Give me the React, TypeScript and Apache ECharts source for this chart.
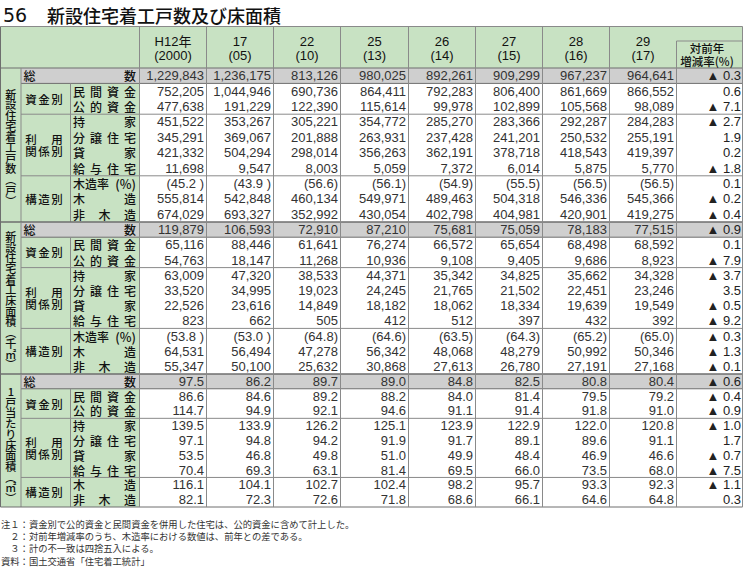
import React, { useEffect, useRef } from "react";
import * as echarts from "echarts";

// ---------- data ----------
const yearLabels = ["H12年", "17", "22", "25", "26", "27", "28", "29"];
const yearSubLabels = ["(2000)", "(05)", "(10)", "(13)", "(14)", "(15)", "(16)", "(17)"];
const changeHeader = ["対前年", "増減率(%)"];

const sectionTitles = ["新設住宅着工戸数︵戸︶", "新設住宅着工床面積︵千㎡︶", "1戸当たり床面積︵㎡︶"];
const totalLabel = ["総", "数"];
const fundGroup = "資金別";
const fundLabels = ["民間資金", "公的資金"];
const useGroup = ["利用", "関係別"];
const useLabels = ["持家", "分譲住宅", "貸家", "給与住宅"];
const structGroup = "構造別";
const woodRateLabel = ["木造率", "(%)"];
const structLabels = ["木造", "非木造"];

// 新設住宅着工戸数（戸）: 総数, 民間資金, 公的資金, 持家, 分譲住宅, 貸家, 給与住宅, 木造率, 木造, 非木造
const startsUnits: number[][] = [
  [1229843, 1236175, 813126, 980025, 892261, 909299, 967237, 964641],
  [752205, 1044946, 690736, 864411, 792283, 806400, 861669, 866552],
  [477638, 191229, 122390, 115614, 99978, 102899, 105568, 98089],
  [451522, 353267, 305221, 354772, 285270, 283366, 292287, 284283],
  [345291, 369067, 201888, 263931, 237428, 241201, 250532, 255191],
  [421332, 504294, 298014, 356263, 362191, 378718, 418543, 419397],
  [11698, 9547, 8003, 5059, 7372, 6014, 5875, 5770],
  [45.2, 43.9, 56.6, 56.1, 54.9, 55.5, 56.5, 56.5],
  [555814, 542848, 460134, 549971, 489463, 504318, 546336, 545366],
  [674029, 693327, 352992, 430054, 402798, 404981, 420901, 419275],
];
const startsUnitsChange = [-0.3, 0.6, -7.1, -2.7, 1.9, 0.2, -1.8, 0.1, -0.2, -0.4];

// 新設住宅着工床面積（千㎡）
const floorArea: number[][] = [
  [119879, 106593, 72910, 87210, 75681, 75059, 78183, 77515],
  [65116, 88446, 61641, 76274, 66572, 65654, 68498, 68592],
  [54763, 18147, 11268, 10936, 9108, 9405, 9686, 8923],
  [63009, 47320, 38533, 44371, 35342, 34825, 35662, 34328],
  [33520, 34995, 19023, 24245, 21765, 21502, 22451, 23246],
  [22526, 23616, 14849, 18182, 18062, 18334, 19639, 19549],
  [823, 662, 505, 412, 512, 397, 432, 392],
  [53.8, 53.0, 64.8, 64.6, 63.5, 64.3, 65.2, 65.0],
  [64531, 56494, 47278, 56342, 48068, 48279, 50992, 50346],
  [55347, 50100, 25632, 30868, 27613, 26780, 27191, 27168],
];
const floorAreaChange = [-0.9, 0.1, -7.9, -3.7, 3.5, -0.5, -9.2, -0.3, -1.3, -0.1];

// 1戸当たり床面積（㎡）: 総数, 民間資金, 公的資金, 持家, 分譲住宅, 貸家, 給与住宅, 木造, 非木造
const perUnitArea: number[][] = [
  [97.5, 86.2, 89.7, 89.0, 84.8, 82.5, 80.8, 80.4],
  [86.6, 84.6, 89.2, 88.2, 84.0, 81.4, 79.5, 79.2],
  [114.7, 94.9, 92.1, 94.6, 91.1, 91.4, 91.8, 91.0],
  [139.5, 133.9, 126.2, 125.1, 123.9, 122.9, 122.0, 120.8],
  [97.1, 94.8, 94.2, 91.9, 91.7, 89.1, 89.6, 91.1],
  [53.5, 46.8, 49.8, 51.0, 49.9, 48.4, 46.9, 46.6],
  [70.4, 69.3, 63.1, 81.4, 69.5, 66.0, 73.5, 68.0],
  [116.1, 104.1, 102.7, 102.4, 98.2, 95.7, 93.3, 92.3],
  [82.1, 72.3, 72.6, 71.8, 68.6, 66.1, 64.6, 64.8],
];
const perUnitAreaChange = [-0.6, -0.4, -0.9, -1.0, 1.7, -0.7, -7.5, -1.1, 0.3];

const titleNumber = "56";
const titleText = "新設住宅着工戸数及び床面積";
const notes = [
  "注１：資金別で公的資金と民間資金を併用した住宅は、公的資金に含めて計上した。",
  "　２：対前年増減率のうち、木造率における数値は、前年との差である。",
  "　３：計の不一致は四捨五入による。",
  "資料：国土交通省「住宅着工統計」",
];

// ---------- layout / style ----------
const GREEN = "#c8e2c3";
const GRAY = "#cfcfcf";
const LINE = "#8a8a8a";
const DARK = "#6e6e6e";
const NUM_FONT = "'Liberation Sans','DejaVu Sans',sans-serif";
const JP_FONT = "'Noto Sans CJK JP','Noto Sans CJK SC',sans-serif";
const LABEL_W = "500";

const colX = [139.5, 206.5, 273.5, 340.5, 408.5, 475.5, 542.5, 609.5, 676.5, 742.5];
const TOP = 26.5;
const HEAD_BOTTOM = 68;
const secTops = [68, 222, 374, 507];

const fmtInt = (v: number) => v.toLocaleString("en-US");
const fmtChange = (v: number) => (v < 0 ? "▲ " + Math.abs(v).toFixed(1) : v.toFixed(1));

function buildElements() {
  const els: any[] = [];
  const rect = (x: number, y: number, w: number, h: number, fill: string) =>
    els.push({ type: "rect", z: 0, silent: true, shape: { x, y, width: w, height: h }, style: { fill } });
  const line = (x1: number, y1: number, x2: number, y2: number, stroke = LINE, lw = 1) =>
    els.push({ type: "line", z: 1, silent: true, shape: { x1, y1, x2, y2 }, style: { stroke, lineWidth: lw } });
  const text = (
    x: number,
    y: number,
    t: string,
    o: { size?: number; family?: string; fill?: string; align?: string; weight?: string; lh?: number } = {}
  ) =>
    els.push({
      type: "text",
      z: 2,
      silent: true,
      x,
      y,
      style: {
        text: t,
        fill: o.fill || "#222",
        fontSize: o.size || 13,
        fontFamily: o.family || NUM_FONT,
        fontWeight: o.weight || "normal",
        lineHeight: o.lh || undefined,
        align: o.align || "left",
        textAlign: o.align || "left",
        verticalAlign: "middle",
        textVerticalAlign: "middle",
      },
    });
  const label = (x: number, y: number, t: string, size: number, align = "center") =>
    text(x, y, t, { size, family: JP_FONT, fill: "#111", align, weight: LABEL_W });
  // justified characters between left and right ink edges
  const justify = (chars: string[], left: number, right: number, y: number, size: number) => {
    const half = size / 2;
    const step = (right - left - size) / (chars.length - 1);
    chars.forEach((c, i) => label(left + half + i * step, y, c, size));
  };

  // title
  text(3, 15, titleNumber, { size: 19, family: "'DejaVu Sans',sans-serif", fill: "#111" });
  text(47, 15, titleText, { size: 18, family: JP_FONT, fill: "#111", weight: LABEL_W });

  // header background
  rect(0.5, TOP, 742, HEAD_BOTTOM - TOP, GREEN);
  // label columns background
  rect(0.5, HEAD_BOTTOM, 139, secTops[3] - HEAD_BOTTOM, GREEN);

  const sections = [
    { data: startsUnits, change: startsUnitsChange, hasRate: true, decimals: false },
    { data: floorArea, change: floorAreaChange, hasRate: true, decimals: false },
    { data: perUnitArea, change: perUnitAreaChange, hasRate: false, decimals: true },
  ];

  sections.forEach((sec, si) => {
    const top = secTops[si];
    const bottom = secTops[si + 1];
    const n = sec.data.length;
    const pitch = (bottom - top) / n;
    const rowTop = (i: number) => top + i * pitch;
    const rowMid = (i: number) => top + (i + 0.5) * pitch;

    // total row background
    rect(21, rowTop(0), 742.5 - 21, pitch, GRAY);

    // section vertical title
    const chars = Array.from(sectionTitles[si]);
    const vp = 10.7;
    const center = (top + bottom) / 2 + (si === 2 ? 4 : 2);
    const start = center - ((chars.length - 1) * vp) / 2;
    chars.forEach((c, i) => label(10.8, start + i * vp, c, 11));

    const structRows = sec.hasRate ? 3 : 2;
    const groups = [
      { start: 0, count: 1 },
      { start: 1, count: 2 },
      { start: 3, count: 4 },
      { start: 7, count: structRows },
    ];

    // total label
    label(23.5, rowMid(0), totalLabel[0], 12, "left");
    label(136, rowMid(0), totalLabel[1], 12, "right");

    const gx = [31, 44, 57];
    {
      const y = (rowTop(1) + rowTop(3)) / 2;
      Array.from(fundGroup).forEach((c, i) => label(gx[i], y, c, 11.5));
    }
    {
      const y = (rowTop(3) + rowTop(7)) / 2;
      const u = Array.from(useGroup[0]);
      label(gx[0], y - 6.2, u[0], 11.5);
      label(gx[2], y - 6.2, u[1], 11.5);
      Array.from(useGroup[1]).forEach((c, i) => label(gx[i], y + 6.2, c, 11.5));
    }
    {
      const y = (rowTop(7) + rowTop(7 + structRows)) / 2;
      Array.from(structGroup).forEach((c, i) => label(gx[i], y, c, 11.5));
    }

    // item labels
    const itemRows: { row: number; label: string }[] = [];
    fundLabels.forEach((l, i) => itemRows.push({ row: 1 + i, label: l }));
    useLabels.forEach((l, i) => itemRows.push({ row: 3 + i, label: l }));
    const sOff = sec.hasRate ? 8 : 7;
    structLabels.forEach((l, i) => itemRows.push({ row: sOff + i, label: l }));
    itemRows.forEach(({ row, label: l }) => justify(Array.from(l), 73, 136, rowMid(row), 12));
    if (sec.hasRate) {
      label(73, rowMid(7), woodRateLabel[0], 12, "left");
      label(136, rowMid(7), woodRateLabel[1], 12.5, "right");
    }

    // values
    sec.data.forEach((vals, r) => {
      const isRate = sec.hasRate && r === 7;
      vals.forEach((v, c) => {
        let s: string;
        if (isRate) s = "(" + v.toFixed(1) + (c < 2 ? " )" : ")");
        else if (sec.decimals) s = v.toFixed(1);
        else s = fmtInt(v);
        text(colX[c + 1] - 2.5, rowMid(r), s, { size: 13, fill: "#333", align: "right" });
      });
      text(741, rowMid(r), fmtChange(sec.change[r]), { size: 13, fill: "#222", align: "right" });
    });

    // horizontal lines
    line(0.5, top, 742.5, top, DARK, si === 0 ? 1 : 1.3);
    line(21, rowTop(1), 742.5, rowTop(1), DARK, 1);
    groups.slice(2).forEach((g) => line(21, rowTop(g.start), 742.5, rowTop(g.start), LINE, 1));

    // vertical lines inside section
    line(21, top, 21, bottom, LINE, 1);
    groups.slice(1).forEach((g) => line(70.5, rowTop(g.start), 70.5, rowTop(g.start + g.count), LINE, 1));
  });

  // header lines and column lines
  line(0.5, TOP, 742.5, TOP, LINE, 1);
  line(0.5, secTops[3], 742.5, secTops[3], DARK, 1);
  line(0.5, TOP, 0.5, secTops[3], DARK, 1);
  colX.forEach((x, i) => {
    if (i === 8) line(x, 41, x, secTops[3], LINE, 1);
    else line(x, TOP, x, secTops[3], LINE, 1);
  });
  line(676.5, 41, 742.5, 41, LINE, 1);

  // header texts
  yearLabels.forEach((l, i) => {
    const cx = (colX[i] + colX[i + 1]) / 2;
    text(cx, 41.5, l, { size: 13, family: NUM_FONT + ",'Noto Sans CJK JP'", fill: "#111", align: "center" });
    text(cx, 55.8, yearSubLabels[i], { size: 13, fill: "#111", align: "center" });
  });
  label(707, 47.5, changeHeader[0], 11.5);
  label(707, 60.5, changeHeader[1], 11.5);

  // notes
  notes.forEach((t, i) => text(1, 524 + i * 12.2, t, { size: 9.3, family: JP_FONT, fill: "#333" }));

  return els;
}

export default function App() {
  const ref = useRef<HTMLDivElement>(null);
  useEffect(() => {
    if (!ref.current) return;
    const chart = echarts.init(ref.current, null, { renderer: "svg" });
    chart.setOption({
      animation: false,
      backgroundColor: "#ffffff",
      graphic: { elements: buildElements() },
    });
    return () => chart.dispose();
  }, []);
  return (
    <div
      ref={ref}
      style={{ position: "fixed", left: 0, top: 0, width: 744, height: 573, background: "#fff" }}
    />
  );
}
